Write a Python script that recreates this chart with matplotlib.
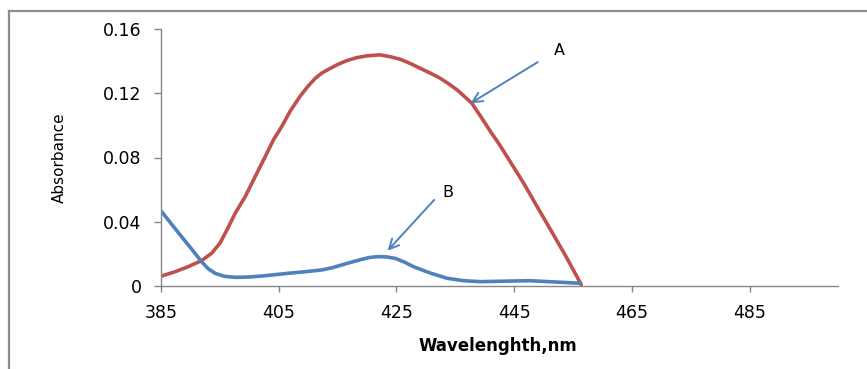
import matplotlib
matplotlib.use("Agg")
import matplotlib.pyplot as plt
from matplotlib.lines import Line2D

# curve A (red)
wl_a = [385.1, 387.4, 389.6, 391.9, 393.6, 395.0, 396.2, 397.6, 399.3, 401.0,
        402.7, 404.1, 405.5, 406.9, 408.6, 410.0, 411.2, 412.3, 413.5, 414.9,
        416.6, 418.3, 420.0, 422.2, 423.9, 425.6, 427.3, 429.0, 430.7, 432.4,
        433.9, 435.3, 437.8, 439.5, 441.0, 442.5, 444.3, 446.6, 448.8, 451.1,
        453.7, 456.4]
abs_a = [0.0062, 0.0089, 0.0120, 0.0158, 0.0204, 0.0266, 0.0349, 0.0453, 0.0556,
         0.0681, 0.0805, 0.0910, 0.0992, 0.1086, 0.1180, 0.1245, 0.1293, 0.1325,
         0.1350, 0.1377, 0.1404, 0.1422, 0.1433, 0.1439, 0.1428, 0.1412, 0.1386,
         0.1356, 0.1326, 0.1294, 0.1258, 0.1221, 0.1138, 0.1045, 0.0960, 0.0880,
         0.0775, 0.0640, 0.0500, 0.0355, 0.0190, 0.0008]

# curve B (blue)
wl_b = [385.1, 386.8, 388.5, 390.2, 391.9, 393.0, 394.2, 395.8, 397.6, 400.0,
        402.1, 404.5, 406.6, 409.5, 412.3, 414.0, 415.7, 417.5, 419.1, 420.5,
        421.9, 423.3, 424.8, 426.4, 427.9, 430.8, 433.6, 436.4, 439.2, 443.5,
        447.7, 452.0, 456.2]
abs_b = [0.0463, 0.0385, 0.0307, 0.0230, 0.0151, 0.0108, 0.0079, 0.0060, 0.0054,
         0.0056, 0.0062, 0.0071, 0.0079, 0.0089, 0.0100, 0.0113, 0.0131, 0.0150,
         0.0166, 0.0178, 0.0183, 0.0181, 0.0172, 0.0148, 0.0120, 0.0080, 0.0048,
         0.0033, 0.0027, 0.0030, 0.0033, 0.0025, 0.0017]

x_ticks = [385, 405, 425, 445, 465, 485]
y_ticks = [0, 0.04, 0.08, 0.12, 0.16]
y_tick_labels = ["0", "0.04", "0.08", "0.12", "0.16"]

red = "#c0504d"
blue = "#4f81bd"
grey = "#868686"

fig = plt.figure(figsize=(8.67, 3.69), dpi=100)
ax = fig.add_axes([161 / 867, 83 / 369, 677 / 867, 257 / 369])

ax.plot(wl_a, abs_a, color=red, lw=2.6, solid_capstyle="round",
        solid_joinstyle="round")
ax.plot(wl_b, abs_b, color=blue, lw=2.6, solid_capstyle="round",
        solid_joinstyle="round")

ax.set_xlim(385, 500)
ax.set_ylim(0, 0.16)
ax.set_xticks(x_ticks)
ax.set_yticks(y_ticks)
ax.set_yticklabels(y_tick_labels)

for s in ["top", "right"]:
    ax.spines[s].set_visible(False)
for s in ["left", "bottom"]:
    ax.spines[s].set_color(grey)
    ax.spines[s].set_linewidth(1.0)

ax.tick_params(axis="both", colors=grey, labelcolor="black", labelsize=12.5,
               width=1.0)
ax.tick_params(axis="x", length=4, pad=9)
ax.tick_params(axis="y", length=5, pad=9)
for lab in ax.get_xticklabels() + ax.get_yticklabels():
    lab.set_family("DejaVu Sans")

ax.set_xlabel("Wavelenghth,nm", fontsize=12, fontweight="bold",
              family="DejaVu Sans")
ax.xaxis.set_label_coords(0.498, -0.2, transform=ax.transAxes)
ax.set_ylabel("Absorbance", fontsize=11, family="DejaVu Sans")
ax.yaxis.set_label_coords(-0.139, 0.5, transform=ax.transAxes)

# arrows pointing at the curves
arrow = dict(arrowstyle="->,head_length=0.7,head_width=0.35", color=blue, lw=1.4,
             shrinkA=0, shrinkB=0)
ax.annotate("", xy=(437.6, 0.1138), xytext=(449.0, 0.1394), arrowprops=arrow)
ax.annotate("", xy=(423.5, 0.0220), xytext=(431.4, 0.0536), arrowprops=arrow)
ax.text(452.6, 0.1466, "A", fontsize=11.5, ha="center", va="center")
ax.text(433.8, 0.0581, "B", fontsize=11.5, ha="center", va="center")

# outer chart frame (cropped at right and bottom)
fig.add_artist(Line2D([9 / 867, 9 / 867], [0, 1 - 11 / 369], color="#8c8c8c",
                      lw=1.6, transform=fig.transFigure))
fig.add_artist(Line2D([9 / 867, 1], [1 - 11 / 369, 1 - 11 / 369], color="#8c8c8c",
                      lw=1.6, transform=fig.transFigure))

fig.savefig("out.png", dpi=100)
